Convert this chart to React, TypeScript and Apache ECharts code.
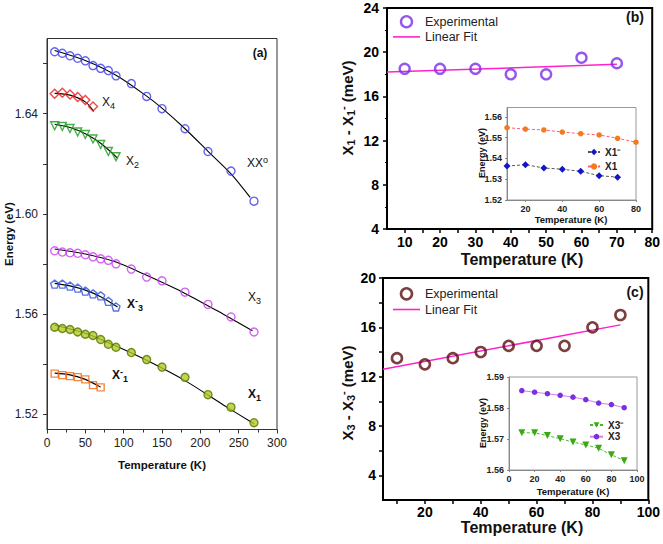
import React, { useEffect, useRef } from "react";
import * as echarts from "echarts";

const F = '"Liberation Sans", Arial, Helvetica, sans-serif';

// ---------- Panel (a) data ----------
const tempLong = [10, 20, 30, 40, 50, 60, 70, 80, 90, 110, 130, 150, 180, 210, 240, 270];
const xx0 = [1.6647, 1.6641, 1.6631, 1.6621, 1.6611, 1.6592, 1.6581, 1.6572, 1.6551, 1.652, 1.6469, 1.642, 1.634, 1.6249, 1.6171, 1.6051];
const x3 = [1.5853, 1.5848, 1.5845, 1.5843, 1.5837, 1.5829, 1.5821, 1.5815, 1.5801, 1.578, 1.5748, 1.5733, 1.5688, 1.5639, 1.5589, 1.5529];
const x1 = [1.5548, 1.5543, 1.5539, 1.5529, 1.552, 1.5515, 1.5499, 1.548, 1.5468, 1.5447, 1.5419, 1.5389, 1.5348, 1.5279, 1.5229, 1.5167];
const temp60 = [10, 20, 30, 40, 50, 60];
const x4 = [1.648, 1.6484, 1.6477, 1.6467, 1.6455, 1.6429];
const temp90 = [10, 20, 30, 40, 50, 60, 70, 80, 90];
const x2 = [1.6352, 1.6349, 1.6341, 1.6327, 1.6317, 1.6299, 1.6277, 1.6249, 1.6228];
const x3m = [1.572, 1.572, 1.5712, 1.5704, 1.5692, 1.5681, 1.5673, 1.5651, 1.5629];
const temp70 = [10, 20, 30, 40, 50, 60, 70];
const x1m = [1.5363, 1.5357, 1.5353, 1.5349, 1.534, 1.5317, 1.5308];

// fit curves: [T, E]
const fitXX0 = [[10, 1.6652], [50, 1.6612], [90, 1.6553], [130, 1.647], [150, 1.6422], [180, 1.634], [210, 1.625], [240, 1.616], [265, 1.6066]];
const fitX4 = [[10, 1.6481], [30, 1.6474], [50, 1.6447], [61, 1.6409]];
const fitX2 = [[10, 1.6358], [30, 1.6345], [50, 1.632], [70, 1.6282], [92, 1.6223]];
const fitX3 = [[10, 1.586], [50, 1.584], [90, 1.5808], [130, 1.5755], [180, 1.5683], [230, 1.56], [268, 1.5534]];
const fitX3m = [[10, 1.5723], [30, 1.5713], [50, 1.5696], [70, 1.567], [92, 1.5629]];
const fitX1 = [[10, 1.5556], [50, 1.5524], [90, 1.5473], [130, 1.5416], [180, 1.5335], [230, 1.5238], [270, 1.5163]];
const fitX1m = [[10, 1.5365], [30, 1.5358], [50, 1.534], [70, 1.5309]];

// ---------- Panel (b) ----------
const tempB = [10, 20, 30, 40, 50, 60, 70];
const diffB = [18.5, 18.5, 18.5, 18, 18, 19.5, 19];
const fitB = [[5, 18.2], [70, 18.9]];
const insetTempB = [10, 20, 30, 40, 50, 60, 70, 80];
const insetX1 = [1.5548, 1.5541, 1.5537, 1.5527, 1.5519, 1.5513, 1.5497, 1.5478];
const insetTempBm = [10, 20, 30, 40, 50, 60, 70];
const insetX1m = [1.5363, 1.537, 1.5354, 1.5348, 1.5338, 1.5317, 1.531];

// ---------- Panel (c) ----------
const tempC = [10, 20, 30, 40, 50, 60, 70, 80, 90];
const diffC = [13.5, 13, 13.5, 14, 14.5, 14.5, 14.5, 16, 17];
const fitC = [[5, 12.6], [90, 16.2]];
const insetTempC = [10, 20, 30, 40, 50, 60, 70, 80, 90];
const insetX3 = [1.5856, 1.5851, 1.5846, 1.5841, 1.5835, 1.5827, 1.5816, 1.5811, 1.5801];
const insetX3m = [1.572, 1.572, 1.5711, 1.5701, 1.569, 1.5681, 1.567, 1.5649, 1.563];

// tick values
const aYLabels = [1.52, 1.56, 1.6, 1.64];
const aYTicks = [1.52, 1.54, 1.56, 1.58, 1.6, 1.62, 1.64, 1.66];
const bXLabels = [10, 20, 30, 40, 50, 60, 70, 80];
const bXTicks = [10, 15, 20, 25, 30, 35, 40, 45, 50, 55, 60, 65, 70, 75, 80];
const bInXLabels = [20, 40, 60, 80];
const bInYLabels = [1.52, 1.53, 1.54, 1.55, 1.56];
const cXLabels = [20, 40, 60, 80, 100];
const cXTicks = [10, 20, 30, 40, 50, 60, 70, 80, 90, 100];
const cYLabels = [4, 8, 12, 16, 20];
const cYTicks = [4, 6, 8, 10, 12, 14, 16, 18, 20];
const cInYLabels = [1.56, 1.57, 1.58, 1.59];

const zip = (xs: number[], ys: number[]) => xs.map((x, i) => [x, ys[i]]);
const pentagon = "path://M0,-10 L9.5,-3.1 L5.9,8.1 L-5.9,8.1 L-9.5,-3.1 Z";
const lineIcon = "path://M0,0 L27,0 L27,1.6 L0,1.6 Z";

function rich(size: number, weight: string, color: string) {
  const base = { fontFamily: F, fontWeight: weight, fill: color };
  const small = Math.round(size * 0.72);
  return {
    m: { ...base, fontSize: size, lineHeight: size + 4 },
    s: { ...base, fontSize: small, lineHeight: Math.round(size * 0.55), verticalAlign: "bottom" },
    p: { ...base, fontSize: small, lineHeight: Math.round(size * 0.55), verticalAlign: "top" },
  };
}

function txt(x: number, y: number, text: string, size: number, weight: string, opts: any = {}) {
  const color = opts.color || "#111";
  return {
    type: "text",
    x,
    y,
    rotation: opts.rot || 0,
    z: 100,
    style: {
      text,
      rich: rich(size, weight, color),
      fill: color,
      fontSize: size,
      fontFamily: F,
      fontWeight: weight,
      align: opts.align || "left",
      verticalAlign: "middle",
    },
  };
}

const emptyStyle = (c: string, w: number) => ({ color: "rgba(0,0,0,0)", borderColor: c, borderWidth: w });

export default function App() {
  const ref = useRef<HTMLDivElement>(null);
  useEffect(() => {
    if (!ref.current) return;
    const chart = echarts.init(ref.current, null, { renderer: "svg" });
    const boldAxis = (extra: any) => ({
      axisLine: { show: true, onZero: false, lineStyle: { color: "#000", width: 2 } },
      axisTick: { show: true, inside: false, length: 4, lineStyle: { color: "#000", width: 1.5 } },
      axisLabel: { fontSize: 14, fontWeight: "bold", color: "#000", fontFamily: F },
      splitLine: { show: false },
      ...extra,
    });
    const insetAxis = (extra: any) => ({
      axisLine: { show: true, onZero: false, lineStyle: { color: "#888", width: 1 } },
      axisTick: { show: true, inside: false, length: 2, lineStyle: { color: "#888" } },
      axisLabel: { fontSize: 9, fontWeight: "bold", color: "#222", fontFamily: F, margin: 4 },
      splitLine: { show: false },
      ...extra,
    });
    const option: any = {
      animation: false,
      backgroundColor: "#fff",
      grid: [
        { left: 47, top: 38.5, width: 230, height: 391, show: true, borderColor: "#333", borderWidth: 1, backgroundColor: "rgba(0,0,0,0)" },
        { left: 387, top: 8, width: 267, height: 221, show: true, borderColor: "#000", borderWidth: 2, backgroundColor: "rgba(0,0,0,0)" },
        { left: 507, top: 107.5, width: 129, height: 92.5, show: true, borderColor: "#999", borderWidth: 1, backgroundColor: "#fff" },
        { left: 383, top: 278, width: 271, height: 222, show: true, borderColor: "#000", borderWidth: 2, backgroundColor: "rgba(0,0,0,0)" },
        { left: 509, top: 377, width: 128, height: 93, show: true, borderColor: "#999", borderWidth: 1, backgroundColor: "#fff" },
      ],
      xAxis: [
        {
          type: "value", gridIndex: 0, min: 0, max: 300, interval: 50,
          axisLine: { show: true, onZero: false, lineStyle: { color: "#333" } },
          axisTick: { show: true, length: 4, lineStyle: { color: "#333" } },
          minorTick: { show: true, splitNumber: 2, length: 3, lineStyle: { color: "#333" } },
          axisLabel: { fontSize: 12, color: "#222", fontFamily: F, margin: 7 },
          splitLine: { show: false },
        },
        boldAxis({
          type: "value", gridIndex: 1, min: 5, max: 80,
          axisTick: { show: true, length: 4, customValues: bXTicks, lineStyle: { color: "#000", width: 1.5 } },
          axisLabel: { fontSize: 14, fontWeight: "bold", color: "#000", fontFamily: F, margin: 6, customValues: bXLabels },
        }),
        insetAxis({
          type: "value", gridIndex: 2, min: 10, max: 80,
          axisTick: { show: true, length: 2, customValues: bInXLabels, lineStyle: { color: "#888" } },
          axisLabel: { fontSize: 9, fontWeight: "bold", color: "#222", fontFamily: F, margin: 4, customValues: bInXLabels },
        }),
        boldAxis({
          type: "value", gridIndex: 3, min: 5, max: 100,
          axisTick: { show: true, length: 4, customValues: cXTicks, lineStyle: { color: "#000", width: 1.5 } },
          axisLabel: { fontSize: 14, fontWeight: "bold", color: "#000", fontFamily: F, margin: 5, customValues: cXLabels },
        }),
        insetAxis({ type: "value", gridIndex: 4, min: 0, max: 100, interval: 20 }),
      ],
      yAxis: [
        {
          type: "value", gridIndex: 0, min: 1.514, max: 1.67,
          axisLine: { show: true, onZero: false, lineStyle: { color: "#333" } },
          axisTick: { show: true, length: 4, customValues: aYTicks, lineStyle: { color: "#333" } },
          axisLabel: { fontSize: 12, color: "#222", fontFamily: F, margin: 9, customValues: aYLabels, formatter: (v: number) => v.toFixed(2) },
          splitLine: { show: false },
        },
        boldAxis({
          type: "value", gridIndex: 1, min: 4, max: 24, interval: 4,
          minorTick: { show: true, splitNumber: 2, length: 2, lineStyle: { color: "#000" } },
          axisLabel: { fontSize: 14, fontWeight: "bold", color: "#000", fontFamily: F, margin: 8 },
        }),
        insetAxis({
          type: "value", gridIndex: 2, min: 1.52, max: 1.5645,
          axisTick: { show: true, length: 2, customValues: bInYLabels, lineStyle: { color: "#888" } },
          axisLabel: { fontSize: 9, fontWeight: "bold", color: "#222", fontFamily: F, margin: 5, customValues: bInYLabels, formatter: (v: number) => v.toFixed(2) },
        }),
        boldAxis({
          type: "value", gridIndex: 3, min: 2, max: 20,
          axisTick: { show: true, length: 4, customValues: cYTicks, lineStyle: { color: "#000", width: 1.5 } },
          axisLabel: { fontSize: 14, fontWeight: "bold", color: "#000", fontFamily: F, margin: 7, customValues: cYLabels },
        }),
        insetAxis({
          type: "value", gridIndex: 4, min: 1.56, max: 1.59,
          axisTick: { show: true, length: 2, customValues: cInYLabels, lineStyle: { color: "#888" } },
          axisLabel: { fontSize: 9, fontWeight: "bold", color: "#222", fontFamily: F, margin: 5, customValues: cInYLabels, formatter: (v: number) => v.toFixed(2) },
        }),
      ],
      legend: [
        {
          orient: "vertical", left: 393, top: 15, padding: 0, itemWidth: 27, itemHeight: 11, itemGap: 2, selectedMode: false,
          textStyle: { fontSize: 12.5, lineHeight: 12, color: "#222", fontFamily: F },
          data: [
            { name: "Experimental", itemStyle: emptyStyle("#7a2ee6", 2.4) },
            { name: "Linear Fit", icon: lineIcon, itemStyle: { color: "#ff22cc" } },
          ],
        },
        {
          orient: "vertical", left: 393, top: 287, padding: 0, itemWidth: 27, itemHeight: 11, itemGap: 2.4, selectedMode: false,
          textStyle: { fontSize: 12.5, lineHeight: 12, color: "#222", fontFamily: F },
          formatter: (n: string) => n.replace(" (c)", ""),
          data: [
            { name: "Experimental (c)", itemStyle: emptyStyle("#5a0f0f", 2.6) },
            { name: "Linear Fit (c)", icon: lineIcon, itemStyle: { color: "#ff22cc" } },
          ],
        },
        {
          orient: "vertical", left: 587, top: 147, padding: 0, itemWidth: 12, itemHeight: 8, itemGap: 4.4, selectedMode: false,
          textStyle: { fontSize: 10, lineHeight: 10, fontWeight: "bold", color: "#222", fontFamily: F },
          data: ["X1⁻", "X1"],
        },
        {
          orient: "vertical", left: 589, top: 420, padding: 0, itemWidth: 13, itemHeight: 7, itemGap: 1.7, selectedMode: false,
          textStyle: { fontSize: 10, lineHeight: 10, fontWeight: "bold", color: "#222", fontFamily: F },
          data: ["X3⁻", "X3"],
        },
      ],
      series: [
        // ---- panel (a) fits ----
        ...[fitXX0, fitX4, fitX2, fitX3, fitX3m, fitX1, fitX1m].map((d, i) => ({
          name: "fit" + i, type: "line", xAxisIndex: 0, yAxisIndex: 0, data: d, smooth: 0.3,
          symbol: "none", lineStyle: { color: "#000", width: 1.1 }, z: 2,
        })),
        // ---- panel (a) points ----
        { name: "XX0", type: "scatter", xAxisIndex: 0, yAxisIndex: 0, data: zip(tempLong, xx0), symbol: "circle", symbolSize: 8, itemStyle: emptyStyle("#3d3de8", 1.4), z: 3 },
        { name: "X4", type: "scatter", xAxisIndex: 0, yAxisIndex: 0, data: zip(temp60, x4), symbol: "diamond", symbolSize: 9, itemStyle: emptyStyle("#e81c1c", 1.4), z: 3 },
        { name: "X2", type: "scatter", xAxisIndex: 0, yAxisIndex: 0, data: zip(temp90, x2), symbol: "triangle", symbolRotate: 180, symbolSize: 8, itemStyle: emptyStyle("#1a9a1a", 1.4), z: 3 },
        { name: "X3a", type: "scatter", xAxisIndex: 0, yAxisIndex: 0, data: zip(tempLong, x3), symbol: "circle", symbolSize: 8, itemStyle: emptyStyle("#c83ef0", 1.4), z: 3 },
        { name: "X3ma", type: "scatter", xAxisIndex: 0, yAxisIndex: 0, data: zip(temp90, x3m), symbol: pentagon, symbolSize: 8, itemStyle: emptyStyle("#2a50d8", 1.4), z: 3 },
        { name: "X1a", type: "scatter", xAxisIndex: 0, yAxisIndex: 0, data: zip(tempLong, x1), symbol: "circle", symbolSize: 8, itemStyle: { color: "#b8c824", borderColor: "#4f7a00", borderWidth: 1.4 }, z: 3 },
        { name: "X1ma", type: "scatter", xAxisIndex: 0, yAxisIndex: 0, data: zip(temp70, x1m), symbol: "rect", symbolSize: 7, itemStyle: emptyStyle("#f06a10", 1.4), z: 3 },
        // ---- panel (b) ----
        { name: "Linear Fit", type: "line", xAxisIndex: 1, yAxisIndex: 1, data: fitB, symbol: "none", lineStyle: { color: "#ff22cc", width: 1.5 }, itemStyle: { color: "#ff22cc" }, z: 2 },
        { name: "Experimental", type: "scatter", xAxisIndex: 1, yAxisIndex: 1, data: zip(tempB, diffB), symbol: "circle", symbolSize: 10, itemStyle: emptyStyle("#7a2ee6", 2.4), z: 3 },
        { name: "X1⁻", type: "line", xAxisIndex: 2, yAxisIndex: 2, data: zip(insetTempBm, insetX1m), symbol: "diamond", symbolSize: 7, itemStyle: { color: "#1515c8" }, lineStyle: { color: "#555", width: 1, type: [3, 2] }, z: 5 },
        { name: "X1", type: "line", xAxisIndex: 2, yAxisIndex: 2, data: zip(insetTempB, insetX1), symbol: "circle", symbolSize: 5.5, itemStyle: { color: "#f47a1e" }, lineStyle: { color: "#ff5a7a", width: 1, type: [3, 2] }, z: 5 },
        // ---- panel (c) ----
        { name: "Linear Fit (c)", type: "line", xAxisIndex: 3, yAxisIndex: 3, data: fitC, symbol: "none", lineStyle: { color: "#ff22cc", width: 1.5 }, itemStyle: { color: "#ff22cc" }, z: 2 },
        { name: "Experimental (c)", type: "scatter", xAxisIndex: 3, yAxisIndex: 3, data: zip(tempC, diffC), symbol: "circle", symbolSize: 10, itemStyle: emptyStyle("#5a0f0f", 2.6), z: 3 },
        { name: "X3⁻", type: "line", xAxisIndex: 4, yAxisIndex: 4, data: zip(insetTempC, insetX3m), symbol: "triangle", symbolRotate: 180, symbolSize: 7, itemStyle: { color: "#3aaa14" }, lineStyle: { color: "#44bb22", width: 1, type: [3, 2] }, z: 5 },
        { name: "X3", type: "line", xAxisIndex: 4, yAxisIndex: 4, data: zip(insetTempC, insetX3), symbol: "circle", symbolSize: 5.5, itemStyle: { color: "#7a2fe0" }, lineStyle: { color: "#d27ef0", width: 1 }, z: 5 },
      ],
      graphic: {
        elements: [
          // panel (a) labels
          txt(260, 53, "{m|(a)}", 12, "bold", { align: "center" }),
          txt(247, 163, "{m|XX}{p|o}", 12, "normal"),
          txt(102, 102, "{m|X}{s|4}", 12, "normal"),
          txt(126, 161, "{m|X}{s|2}", 12, "normal"),
          txt(248, 297, "{m|X}{s|3}", 12, "normal"),
          txt(127, 304, "{m|X}{p|-}{s|3}", 12, "bold"),
          txt(112, 375, "{m|X}{p|-}{s|1}", 12, "bold"),
          txt(248, 394, "{m|X}{s|1}", 12, "bold"),
          txt(162, 465, "{m|Temperature (K)}", 11.5, "bold", { align: "center" }),
          txt(9, 234, "{m|Energy (eV)}", 11.5, "bold", { align: "center", rot: Math.PI / 2 }),
          // panel (b)
          txt(635, 17, "{m|(b)}", 14, "bold", { align: "center" }),
          txt(522, 259, "{m|Temperature (K)}", 16, "bold", { align: "center" }),
          txt(347, 108, "{m|X}{s|1}{m| - X}{s|1}{p|-}{m| (meV)}", 15, "bold", { align: "center", rot: Math.PI / 2 }),
          txt(482, 153, "{m|Energy (eV)}", 9, "bold", { align: "center", rot: Math.PI / 2 }),
          txt(571, 219, "{m|Temperature (K)}", 9.5, "bold", { align: "center" }),
          // panel (c)
          txt(635, 292, "{m|(c)}", 14, "bold", { align: "center" }),
          txt(522, 527, "{m|Temperature (K)}", 16, "bold", { align: "center" }),
          txt(347, 393, "{m|X}{s|3}{m| - X}{s|3}{p|-}{m| (meV)}", 15, "bold", { align: "center", rot: Math.PI / 2 }),
          txt(483, 423, "{m|Energy (eV)}", 9, "bold", { align: "center", rot: Math.PI / 2 }),
          txt(573, 491, "{m|Temperature (K)}", 9.5, "bold", { align: "center" }),
        ],
      },
    };
    chart.setOption(option);
    return () => chart.dispose();
  }, []);
  return <div ref={ref} style={{ position: "fixed", left: 0, top: 0, width: 663, height: 544 }} />;
}
